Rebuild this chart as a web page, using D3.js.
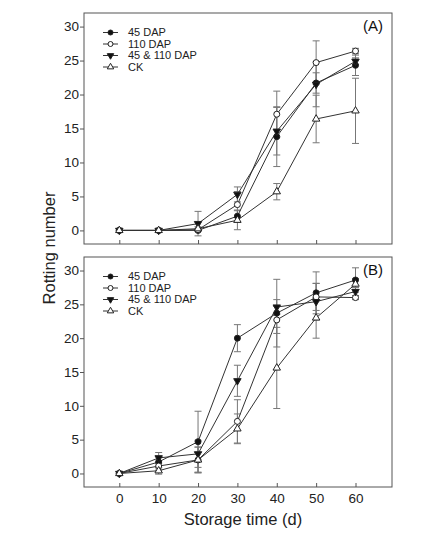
<!DOCTYPE html>
<html>
<head>
<meta charset="utf-8">
<script src="https://cdn.jsdelivr.net/npm/d3@7"></script>
<style>
  body { margin: 0; background: #fff; }
  svg { display: block; font-family: Arial, "Liberation Sans", sans-serif; }
</style>
</head>
<body>
<div id="chart"></div>
<script>
// storage days and legend
const days = [0, 10, 20, 30, 40, 50, 60];
const seriesNames = ["45 DAP", "110 DAP", "45 & 110 DAP", "CK"];
const yTicks = [0, 5, 10, 15, 20, 25, 30];
const xTicks = [0, 10, 20, 30, 40, 50, 60];

// panel A (means and error bars)
const aDap45 = [0, 0, 0, 2.1, 13.8, 21.7, 24.3];
const aDap45Err = [0, 0, 0, 0.9, 4.4, 1.5, 1.5];
const aDap110 = [0, 0, 0.1, 3.8, 17.1, 24.7, 26.4];
const aDap110Err = [0, 0, 0.2, 1.9, 3.4, 3.2, 0.4];
const aBoth = [0, 0, 1.0, 5.3, 14.6, 21.5, 24.9];
const aBothErr = [0, 0, 1.8, 1.1, 3.5, 3.3, 0.5];
const aCK = [0, 0, 0.25, 1.5, 5.7, 16.4, 17.6];
const aCKErr = [0, 0, 0.3, 1.4, 1.2, 3.5, 4.8];

// panel B
const bDap45 = [0, 1.7, 4.7, 20.0, 23.7, 26.7, 28.6];
const bDap45Err = [0, 0.9, 4.5, 2.0, 5.0, 3.1, 1.8];
const bDap110 = [0, 1.1, 2.0, 7.7, 22.7, 26.1, 26.0];
const bDap110Err = [0, 0.6, 1.9, 3.2, 2.0, 2.0, 0.3];
const bBoth = [0, 2.3, 2.9, 13.7, 24.6, 25.4, 26.9];
const bBothErr = [0, 0.8, 2.0, 2.3, 1.1, 2.7, 0.6];
const bCK = [0, 0.4, 2.0, 6.6, 15.6, 23.0, 28.0];
const bCKErr = [0, 0.5, 1.9, 2.2, 6.0, 3.0, 0.8];

const width = 426, height = 536
const left = 84, right = 392
const textColor = "#222"

// marker styles per series
const markers = [
  { shape: "circle", fill: "#111" },
  { shape: "circle", fill: "#fff" },
  { shape: "down", fill: "#111" },
  { shape: "up", fill: "#fff" }
]

const panels = [
  { label: "(A)", top: 13, bottom: 244, means: [aDap45, aDap110, aBoth, aCK], errs: [aDap45Err, aDap110Err, aBothErr, aCKErr], xLabels: false },
  { label: "(B)", top: 257, bottom: 487, means: [bDap45, bDap110, bBoth, bCK], errs: [bDap45Err, bDap110Err, bBothErr, bCKErr], xLabels: true }
]

const svg = d3.select("#chart")
  .append("svg")
  .attr("width", width)
  .attr("height", height)

const x = d3.scaleLinear().domain([0, 60]).range([119.3, 355.5])

function drawMarker(g, m, cx, cy, small) {
  if (m.shape === "circle") {
    g.append("circle")
      .attr("cx", cx).attr("cy", cy)
      .attr("r", small ? 2.5 : 3)
      .attr("fill", m.fill)
      .attr("stroke", "#222")
      .attr("stroke-width", 1)
  } else {
    const sym = d3.symbol().type(d3.symbolTriangle).size(small ? 18 : 24)
    g.append("path")
      .attr("d", sym())
      .attr("transform", `translate(${cx},${cy})` + (m.shape === "down" ? " rotate(180)" : ""))
      .attr("fill", m.fill)
      .attr("stroke", "#222")
      .attr("stroke-width", 1)
  }
}

panels.forEach(p => {
  const y = d3.scaleLinear().domain([-2, 32]).range([p.bottom, p.top])
  const g = svg.append("g")

  // frame
  g.append("rect")
    .attr("x", left).attr("y", p.top)
    .attr("width", right - left).attr("height", p.bottom - p.top)
    .attr("fill", "none")
    .attr("stroke", "#555")
    .attr("stroke-width", 1)

  // y axis, ticks outward
  const yAxis = g.append("g")
    .attr("transform", `translate(${left},0)`)
    .call(d3.axisLeft(y).tickValues(yTicks).tickSize(4).tickPadding(1))
  yAxis.select(".domain").remove()
  yAxis.selectAll("line").attr("stroke", "#555")
  yAxis.selectAll("text")
    .attr("fill", textColor)
    .style("font-size", "13.5px")
    .style("font-family", "Arial, 'Liberation Sans', sans-serif")

  // x axis, ticks inward
  const xAxis = g.append("g")
    .attr("transform", `translate(0,${p.bottom})`)
    .call(d3.axisBottom(x).tickValues(xTicks).tickSize(-4).tickPadding(6))
  xAxis.select(".domain").remove()
  xAxis.selectAll("line").attr("stroke", "#555")
  xAxis.selectAll("text")
    .attr("fill", textColor)
    .style("font-size", "13.5px")
    .style("font-family", "Arial, 'Liberation Sans', sans-serif")
  if (!p.xLabels) xAxis.selectAll("text").remove()

  // error bars
  p.means.forEach((vals, s) => {
    vals.forEach((v, i) => {
      const e = p.errs[s][i]
      if (!e) return
      const cx = x(days[i])
      const eg = g.append("g").attr("stroke", "#777").attr("stroke-width", 1)
      eg.append("line").attr("x1", cx).attr("x2", cx).attr("y1", y(v - e)).attr("y2", y(v + e))
      eg.append("line").attr("x1", cx - 3.5).attr("x2", cx + 3.5).attr("y1", y(v + e)).attr("y2", y(v + e))
      eg.append("line").attr("x1", cx - 3.5).attr("x2", cx + 3.5).attr("y1", y(v - e)).attr("y2", y(v - e))
    })
  })

  // lines
  const line = d3.line().x((d, i) => x(days[i])).y(d => y(d))
  p.means.forEach(vals => {
    g.append("path")
      .attr("d", line(vals))
      .attr("fill", "none")
      .attr("stroke", "#333")
      .attr("stroke-width", 1)
  })

  // markers
  p.means.forEach((vals, s) => {
    vals.forEach((v, i) => drawMarker(g, markers[s], x(days[i]), y(v), false))
  })

  // legend
  seriesNames.forEach((name, s) => {
    const ly = p.top + 19.5 + s * 11.5
    g.append("line")
      .attr("x1", 103).attr("x2", 118)
      .attr("y1", ly).attr("y2", ly)
      .attr("stroke", "#333")
      .attr("stroke-width", 1)
    drawMarker(g, markers[s], 110.5, ly, true)
    g.append("text")
      .attr("x", 128).attr("y", ly)
      .attr("dy", "0.36em")
      .attr("fill", textColor)
      .style("font-size", "11px")
      .text(name)
  })

  // panel label
  g.append("text")
    .attr("x", 383).attr("y", p.top + 18)
    .attr("text-anchor", "end")
    .attr("fill", "#111")
    .style("font-size", "15px")
    .text(p.label)
})

// axis titles
svg.append("text")
  .attr("transform", "translate(55,248) rotate(-90)")
  .attr("text-anchor", "middle")
  .attr("fill", textColor)
  .style("font-size", "16.5px")
  .text("Rotting number")

svg.append("text")
  .attr("x", 243).attr("y", 525)
  .attr("text-anchor", "middle")
  .attr("fill", textColor)
  .style("font-size", "16.5px")
  .text("Storage time (d)")
</script>
</body>
</html>
